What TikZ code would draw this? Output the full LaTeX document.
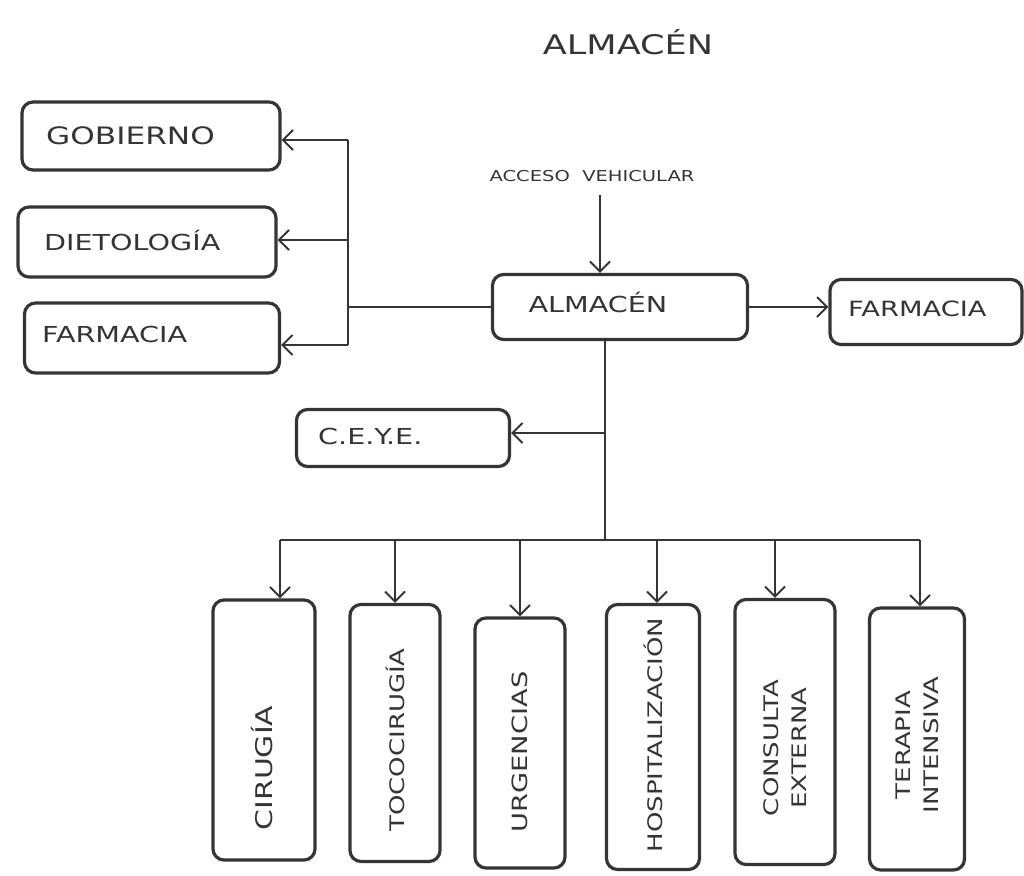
\documentclass[tikz,border=0pt]{standalone}
\usepackage{fontspec}
\setmainfont{DejaVu Sans}[FakeStretch=1.3]
\usetikzlibrary{arrows.meta}
\definecolor{ink}{HTML}{353535}
\tikzset{
  box/.style={draw=ink, line width=3.2pt, rounded corners=11pt, inner sep=0pt},
  lbl/.style={text=ink, font=\fontsize{22}{24}\selectfont, inner sep=0pt},
  vlbl/.style={text=ink, font=\fontsize{20}{28}\selectfont, inner sep=0pt, rotate=90, align=center},
  conn/.style={draw=ink, line width=2.4pt},
  arr/.style={conn, -{Straight Barb[length=10pt,width=20pt,line width=2pt]}}
}
\begin{document}
\begin{tikzpicture}[x=1pt,y=-1pt]
\useasboundingbox[fill=white] (0,0) rectangle (1024,875);

% title
\node[lbl, font=\fontsize{27}{29}\selectfont] (title) at (628,42) {ALMACÉN};

% left boxes
\node[box, minimum width=258, minimum height=68] (gob) at (151,136) {};
\node[lbl, font=\fontsize{24}{26}\selectfont, anchor=west] (gobT) at (46,136) {GOBIERNO};
\node[box, minimum width=258, minimum height=70] (die) at (147,242) {};
\node[lbl, anchor=west] (dieT) at (44,240) {DIETOLOGÍA};
\node[box, minimum width=255, minimum height=70] (farL) at (152,338) {};
\node[lbl, anchor=west] (farLT) at (42,334) {FARMACIA};

% central
\node[box, minimum width=255, minimum height=65] (alm) at (620,307) {};
\node[lbl] (almT) at (598,302) {ALMACÉN};
\node[box, minimum width=192, minimum height=65] (farR) at (926,312) {};
\node[lbl, font=\fontsize{21}{23}\selectfont, anchor=west] (farRT) at (848,309) {FARMACIA};
\node[lbl, font=\fontsize{15}{17}\selectfont] (acc) at (592,176) {ACCESO~~VEHICULAR};
\node[box, minimum width=213, minimum height=57] (ceye) at (403,438) {};
\node[lbl, anchor=west] (ceyeT) at (318,436) {C.E.Y.E.};

% bottom boxes
\node[box, minimum width=102, minimum height=260] (cir) at (264,730) {};
\node[box, minimum width=90, minimum height=257] (toc) at (395,733) {};
\node[box, minimum width=90, minimum height=250] (urg) at (520,743) {};
\node[box, minimum width=93, minimum height=265] (hos) at (653,737) {};
\node[box, minimum width=100, minimum height=265] (con) at (785,732) {};
\node[box, minimum width=95, minimum height=262] (ter) at (917,739) {};
\node[vlbl, font=\fontsize{23}{28}\selectfont] (cirT) at (262,768) {CIRUGÍA};
\node[vlbl] (tocT) at (395,740) {TOCOCIRUGÍA};
\node[vlbl, font=\fontsize{21}{28}\selectfont] (urgT) at (520,752) {URGENCIAS};
\node[vlbl] (hosT) at (653,735) {HOSPITALIZACIÓN};
\node[vlbl] (conT) at (785,748) {CONSULTA\\EXTERNA};
\node[vlbl] (terT) at (917,745) {TERAPIA\\INTENSIVA};

% left tree
\coordinate (lt) at (348,140);
\coordinate (lm) at (348,240);
\coordinate (lb) at (348,345);
\draw[conn] (lt) -- (lb);
\draw[arr] (lt) -- (lt -| gob.east);
\draw[arr] (lm) -- (lm -| die.east);
\draw[arr] (lb) -- (lb -| farL.east);
\draw[conn] (alm.west) -- (alm.west -| lt);

% access
\coordinate (av) at (600,195);
\draw[arr] (av) -- (av |- alm.north);

% to farmacia right
\draw[arr] (alm.east) -- (alm.east -| farR.west);

% down trunk
\coordinate (j) at (605,540);
\coordinate (jc) at (605,433);
\draw[conn] (alm.south -| j) -- (j);
\draw[arr] (jc) -- (jc -| ceye.east);

% bus
\coordinate (b1) at (280,540);
\coordinate (b2) at (395,540);
\coordinate (b3) at (520,540);
\coordinate (b4) at (657,540);
\coordinate (b5) at (775,540);
\coordinate (b6) at (920,540);
\draw[conn] (b1) -- (b6);
\draw[arr] (b1) -- (b1 |- cir.north);
\draw[arr] (b2) -- (b2 |- toc.north);
\draw[arr] (b3) -- (b3 |- urg.north);
\draw[arr] (b4) -- (b4 |- hos.north);
\draw[arr] (b5) -- (b5 |- con.north);
\draw[arr] (b6) -- (b6 |- ter.north);
\end{tikzpicture}
\end{document}
